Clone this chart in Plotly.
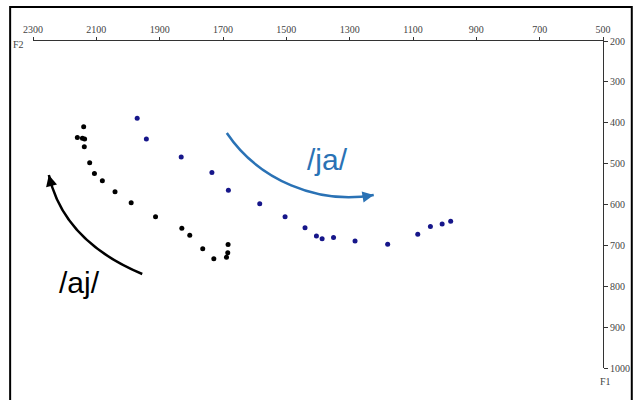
import plotly.graph_objects as go

# Formant measurements (F2, F1 in Hz)
aj_f2 = [2140, 2160, 2144, 2137, 2138, 2121, 2106, 2081, 2041, 1990, 1913,
         1830, 1805, 1764, 1729, 1684, 1685, 1689]
aj_f1 = [410, 436, 438, 440, 459, 498, 524, 542, 569, 596, 630,
         658, 675, 708, 733, 698, 718, 729]

ja_f2 = [1971, 1942, 1832, 1735, 1683, 1584, 1504, 1441, 1405, 1387, 1351,
         1283, 1180, 1085, 1045, 1008, 981]
ja_f1 = [389, 440, 484, 522, 565, 598, 630, 657, 677, 684, 681,
         689, 697, 673, 654, 648, 641]

f2_ticks = [2300, 2100, 1900, 1700, 1500, 1300, 1100, 900, 700, 500]
f1_ticks = [200, 300, 400, 500, 600, 700, 800, 900, 1000]

# Trajectory arrows: (F2, F1) control points
aj_arrow = [(1955, 770), (2203, 690), (2250, 528)]
ja_arrow = [(1688, 425), (1588, 540), (1400, 601), (1224, 577)]

BLUE_DOT = "#16168a"
BLUE_ARROW = "#2a72b5"

fig = go.Figure()
fig.add_trace(go.Scatter(x=aj_f2, y=aj_f1, mode="markers", name="/aj/",
                         marker=dict(color="black", size=5)))
fig.add_trace(go.Scatter(x=ja_f2, y=ja_f1, mode="markers", name="/ja/",
                         marker=dict(color=BLUE_DOT, size=5)))


def pt(p):
    return f"{p[0]},{p[1]}"


fig.add_shape(type="path", xref="x", yref="y",
              path=f"M {pt(aj_arrow[0])} Q {pt(aj_arrow[1])} {pt(aj_arrow[2])}",
              line=dict(color="black", width=2.5))
fig.add_shape(type="path", xref="x", yref="y",
              path=f"M {pt(ja_arrow[0])} C {pt(ja_arrow[1])} {pt(ja_arrow[2])} {pt(ja_arrow[3])}",
              line=dict(color=BLUE_ARROW, width=2.5))

# arrow heads
fig.add_annotation(x=aj_arrow[2][0], y=aj_arrow[2][1], ax=3, ay=12,
                   text="", showarrow=True, arrowhead=2, arrowsize=0.9,
                   arrowwidth=2.5, arrowcolor="black")
fig.add_annotation(x=ja_arrow[3][0], y=ja_arrow[3][1], ax=-12, ay=2,
                   text="", showarrow=True, arrowhead=2, arrowsize=0.9,
                   arrowwidth=2.5, arrowcolor=BLUE_ARROW)

fig.add_annotation(x=1369, y=491, text="/ja/", showarrow=False,
                   font=dict(family="Liberation Sans, Arial", size=30, color=BLUE_ARROW))
fig.add_annotation(x=2153, y=792, text="/aj/", showarrow=False,
                   font=dict(family="Liberation Sans, Arial", size=30, color="black"))

axis_font = dict(family="Liberation Serif, Times New Roman", size=10, color="#444")
fig.add_annotation(xref="paper", yref="paper", x=-0.012, y=0.99, text="F2",
                   showarrow=False, xanchor="right", yanchor="middle", font=axis_font)
fig.add_annotation(xref="paper", yref="paper", x=1.004, y=-0.042, text="F1",
                   showarrow=False, xanchor="center", yanchor="middle", font=axis_font)

# outer frame
fig.add_shape(type="rect", xref="paper", yref="paper",
              x0=-0.0401, x1=1.0505, y0=-0.2, y1=1.104,
              line=dict(color="black", width=2))

fig.update_layout(
    width=642, height=400,
    margin=dict(l=33, r=35, t=41, b=32),
    paper_bgcolor="white", plot_bgcolor="white",
    showlegend=False,
    xaxis=dict(range=[2300, 500], side="top", tickvals=f2_ticks,
               showgrid=False, zeroline=False, showline=True,
               linecolor="#333", linewidth=1, ticks="outside", ticklen=3,
               tickcolor="#333", tickfont=axis_font),
    yaxis=dict(range=[1000, 200], side="right", tickvals=f1_ticks,
               showgrid=False, zeroline=False, showline=True,
               linecolor="#333", linewidth=1, ticks="outside", ticklen=4,
               tickcolor="#333", tickfont=axis_font),
)

fig.write_html("out.html")
